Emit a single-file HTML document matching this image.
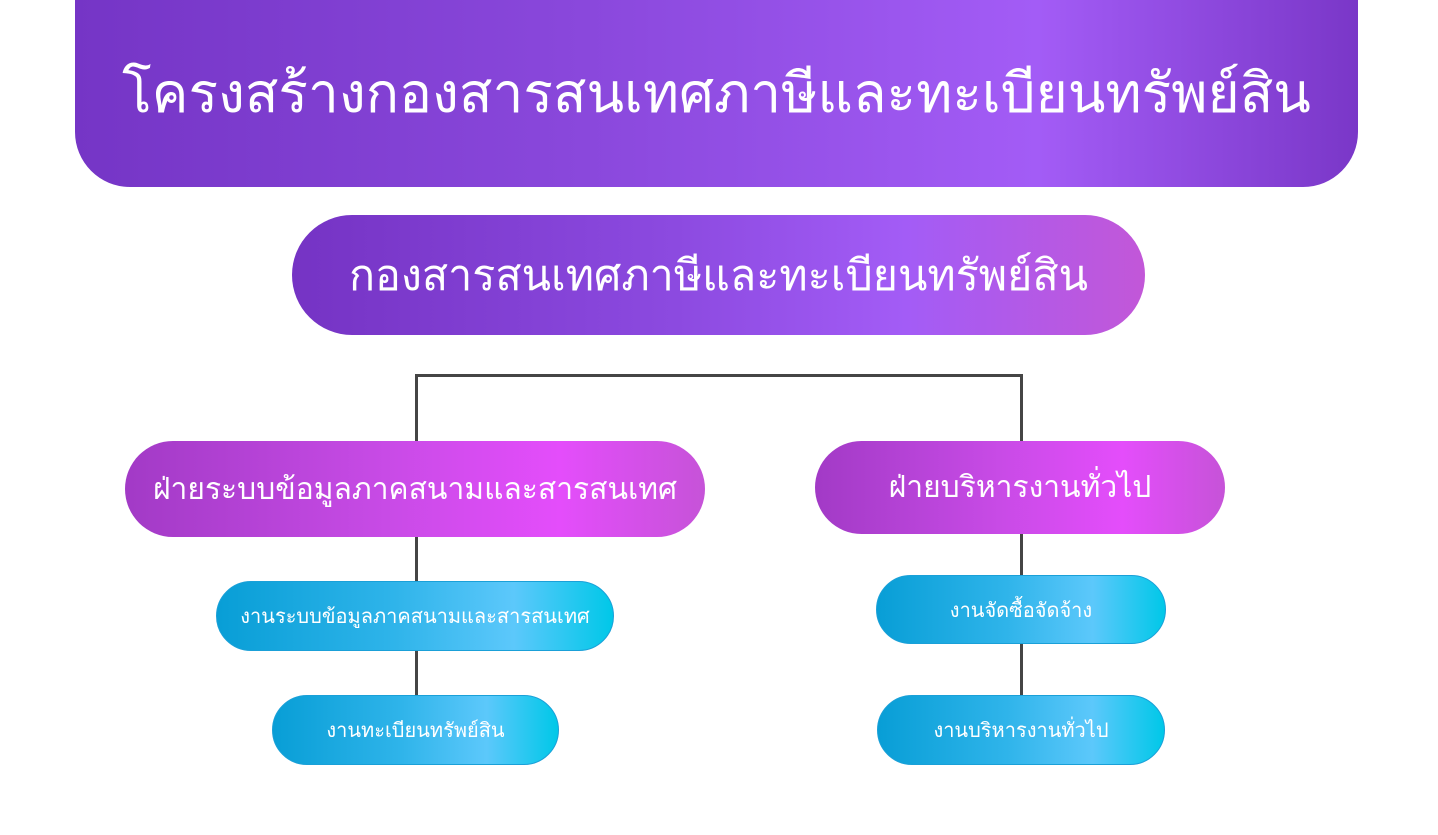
<!DOCTYPE html>
<html><head><meta charset="utf-8"><style>
body{margin:0;width:1438px;height:835px;background:#fff;position:relative;overflow:hidden;font-family:"Liberation Sans","DejaVu Sans",sans-serif;color:#fff}
.b{position:absolute;display:flex;align-items:center;justify-content:center;white-space:nowrap}
.l{position:absolute;background:#454545}
.p{background:linear-gradient(90deg,#a23ac6 0%,#c84be6 45%,#e44dfb 75%,#c653d8 100%);border-radius:50px;font-size:30px}
.c{background:linear-gradient(90deg,#089ed6 0%,#2fb4ea 45%,#5cc8fb 75%,#00c8e8 100%);border-radius:36px;font-size:20px;border:1px solid #1aa0d8}
</style></head><body>
<div class="b" style="left:75px;top:0;width:1283px;height:187px;border-radius:0 0 55px 55px;background:linear-gradient(90deg,#7535c6 0%,#8a48dc 40%,#a35cf6 75%,#7a37c8 100%);font-size:55px">โครงสร้างกองสารสนเทศภาษีและทะเบียนทรัพย์สิน</div>
<div class="b" style="left:292px;top:215px;width:853px;height:120px;border-radius:60px/60px;background:linear-gradient(90deg,#7533c4 0%,#8c4ae0 45%,#a35cf6 72%,#c257d8 100%);font-size:43px">กองสารสนเทศภาษีและทะเบียนทรัพย์สิน</div>
<div class="l" style="left:415px;top:374px;width:608px;height:3px"></div>
<div class="l" style="left:415px;top:374px;width:3px;height:322px"></div>
<div class="l" style="left:1020px;top:374px;width:3px;height:322px"></div>
<div class="b p" style="left:125px;top:441px;width:580px;height:96px">ฝ่ายระบบข้อมูลภาคสนามและสารสนเทศ</div>
<div class="b p" style="left:815px;top:441px;width:410px;height:93px">ฝ่ายบริหารงานทั่วไป</div>
<div class="b c" style="left:216px;top:581px;width:396px;height:68px">งานระบบข้อมูลภาคสนามและสารสนเทศ</div>
<div class="b c" style="left:272px;top:695px;width:285px;height:68px">งานทะเบียนทรัพย์สิน</div>
<div class="b c" style="left:876px;top:575px;width:288px;height:67px">งานจัดซื้อจัดจ้าง</div>
<div class="b c" style="left:877px;top:695px;width:286px;height:68px">งานบริหารงานทั่วไป</div>
</body></html>
